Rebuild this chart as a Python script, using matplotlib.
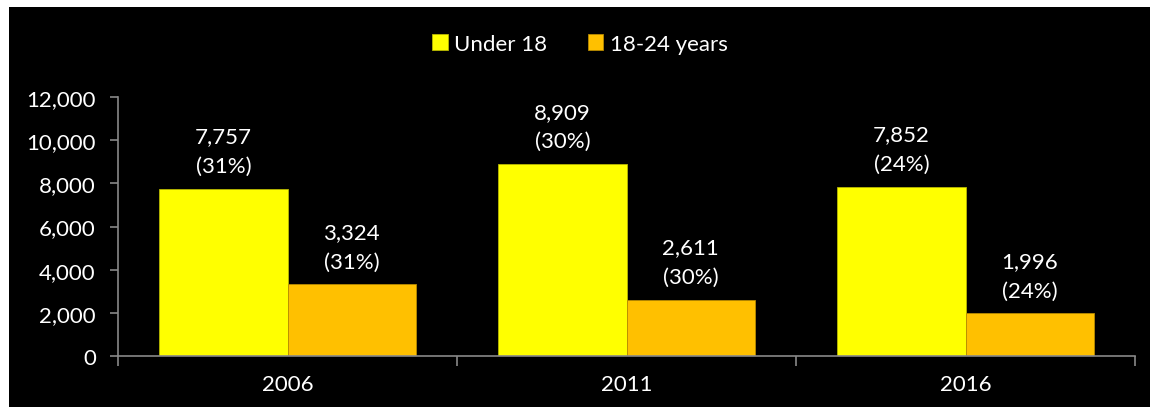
import numpy as np
import matplotlib.pyplot as plt
from matplotlib.patches import Rectangle

years = ['2006', '2011', '2016']
series = ['Under 18', '18-24 years']
under18 = [7757, 8909, 7852]
age18_24 = [3324, 2611, 1996]
pct = ['31%', '30%', '24%']
colors = ['#FFFF00', '#FFC000']

plt.rcParams['font.family'] = ['Lato', 'DejaVu Sans']

fig = plt.figure(figsize=(11.5, 4.1), dpi=100, facecolor='white')
# black panel with a thin white margin round it
fig.patches.append(Rectangle((9 / 1150, 2 / 410), 1 - 9 / 1150, 1 - 10 / 410,
                             transform=fig.transFigure, facecolor='black',
                             edgecolor='none', zorder=-5))
ax = fig.add_axes([118 / 1150, 1 - 357 / 410, (1135 - 118) / 1150, (357 - 98) / 410])
ax.set_facecolor('black')

x = np.arange(len(years))
w = 0.378
b1 = ax.bar(x - w / 2, under18, w, color=colors[0], edgecolor='#b8b800', linewidth=0.6, label=series[0])
b2 = ax.bar(x + w / 2, age18_24, w, color=colors[1], edgecolor='#b88a00', linewidth=0.6, label=series[1])

for bars, vals in ((b1, under18), (b2, age18_24)):
    for rect, v, p in zip(bars, vals, pct):
        ax.annotate(f'{v:,}\n({p})', (rect.get_x() + rect.get_width() / 2, v),
                    xytext=(0, 9), textcoords='offset points', ha='center', va='bottom',
                    color='white', fontsize=16, linespacing=1.6)

ax.set_xlim(-0.5, 2.5)
ax.set_ylim(0, 12000)
ax.set_yticks(range(0, 12001, 2000))
ax.set_yticklabels([f'{v:,}' for v in range(0, 12001, 2000)])
ax.set_xticks(x)
ax.set_xticklabels(years)
ax.set_xticks([-0.5, 0.5, 1.5, 2.5], minor=True)
ax.tick_params(axis='x', which='major', length=0, pad=13, labelsize=16, colors='white')
ax.tick_params(axis='x', which='minor', length=7, color='#888888', width=1.2)
ax.tick_params(axis='y', length=6, color='#888888', width=1.2, labelsize=16, labelcolor='white', pad=10)

for s in ['top', 'right']:
    ax.spines[s].set_visible(False)
for s in ['left', 'bottom']:
    ax.spines[s].set_color('#888888')
    ax.spines[s].set_linewidth(1.2)

leg = fig.legend(loc='center', bbox_to_anchor=(580 / 1150, 1 - 45 / 410), ncol=2,
                 frameon=False, fontsize=16, labelcolor='white', handlelength=0.7,
                 handleheight=0.7, handletextpad=0.3, columnspacing=1.8)

fig.savefig('out.png', dpi=100, facecolor='white')
